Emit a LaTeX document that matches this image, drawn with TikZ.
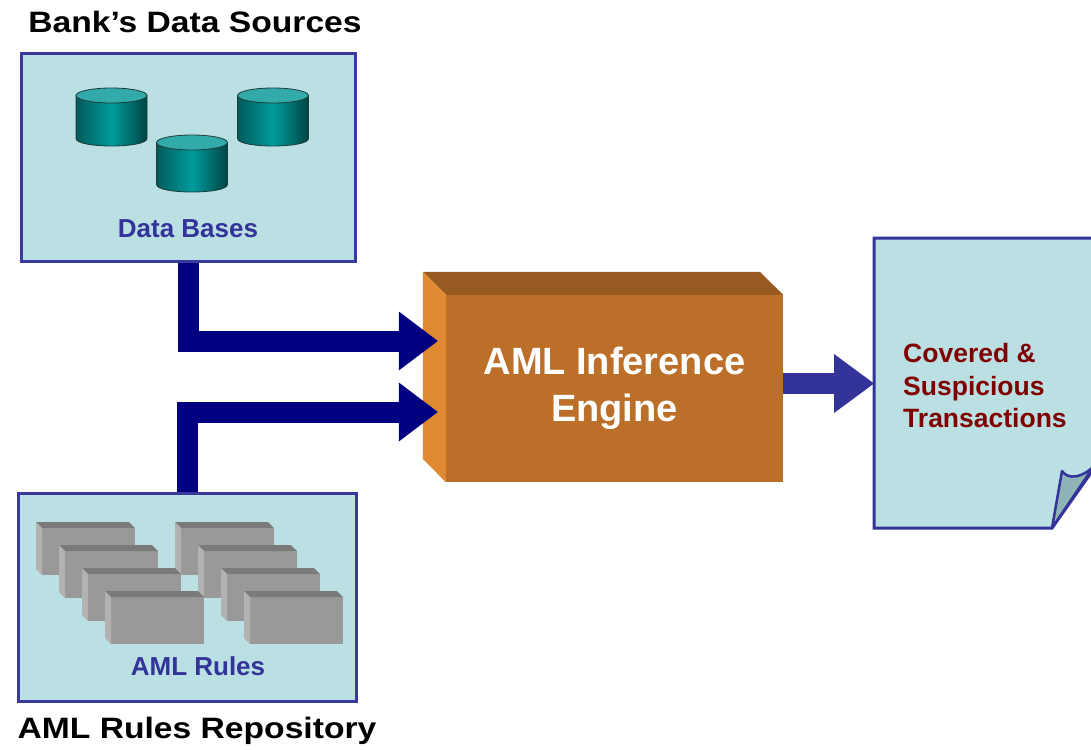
\documentclass[tikz,border=0pt]{standalone}
\usepackage{fontspec}
\setmainfont{Liberation Sans}
\usetikzlibrary{arrows.meta}
\definecolor{boxfill}{HTML}{BBE0E3}
\definecolor{boxline}{HTML}{3A3A9E}
\definecolor{navyarrow}{HTML}{000080}
\definecolor{outarrow}{HTML}{333399}
\definecolor{labelblue}{HTML}{333399}
\definecolor{engfront}{HTML}{BC6F28}
\definecolor{engtop}{HTML}{985A20}
\definecolor{engside}{HTML}{DF8A33}
\definecolor{docred}{HTML}{800000}
\definecolor{foldfill}{HTML}{8FB4B7}
\definecolor{cyldark}{HTML}{005A5A}
\definecolor{cylmid}{HTML}{009C9C}
\definecolor{cyltop}{HTML}{33AAAA}
\definecolor{cylline}{HTML}{1E3A3A}
\definecolor{blkfront}{HTML}{999999}
\definecolor{blktop}{HTML}{7A7A7A}
\definecolor{blkside}{HTML}{B2B2B2}
\newcommand\dbcyl[3]{%
  \shade[left color=cyldark, right color=cyldark!75!black, middle color=cylmid, draw=cylline, line width=0.8pt]
    (#1-35.5,#2+7.5) -- (#1-35.5,#3-7.5) .. controls (#1-35.5,#3+2.5) and (#1+35.5,#3+2.5) .. (#1+35.5,#3-7.5) -- (#1+35.5,#2+7.5) -- cycle;
  \draw[fill=cyltop, draw=cylline, line width=0.8pt] (#1,#2+7.5) ellipse [x radius=35.5, y radius=7.5];
}
\newcommand\ruleblk[2]{%
  \fill[blkfront] (#1+6,#2+6) rectangle (#1+99,#2+53);
  \fill[blktop] (#1,#2) -- (#1+93,#2) -- (#1+99,#2+6) -- (#1+6,#2+6) -- cycle;
  \fill[blkside] (#1,#2) -- (#1+6,#2+6) -- (#1+6,#2+53) -- (#1,#2+47) -- cycle;
}
\tikzset{
  srcbox/.style={draw=boxline, fill=boxfill, line width=3pt, minimum height=208.4pt, inner sep=0pt},
  heading/.style={anchor=base, font=\fontsize{29.5}{34}\selectfont\bfseries, inner sep=0pt},
  boxlabel/.style={anchor=base, text=labelblue, font=\fontsize{26}{30}\selectfont\bfseries, inner sep=0pt},
  enginebox/.style={fill=engfront, minimum width=337pt, minimum height=187pt, inner sep=0pt, text=white, align=center, font=\fontsize{38}{47}\selectfont\bfseries},
  inarrow/.style={draw=navyarrow, line width=21pt, line join=miter, -{Triangle[length=39pt,width=59pt,line width=0pt]}, shorten >=8pt},
  outarrowst/.style={draw=outarrow, line width=21pt, -{Triangle[length=40pt,width=59pt,line width=0pt]}},
  doctext/.style={anchor=west, text=docred, align=left, inner sep=0pt, font=\fontsize{26.5}{32.5}\selectfont\bfseries}
}
\begin{document}
\begin{tikzpicture}[x=1pt, y=-1pt]
\useasboundingbox[fill=white] (0,0) rectangle (1091,749);
% headings
\node[heading] (h1) at (195,33) {\scalebox{1.14}[1]{Bank’s Data Sources}};
\node[heading] (h2) at (197,738) {\scalebox{1.14}[1]{AML Rules Repository}};
% data source box
\node[srcbox, minimum width=334pt] (db) at (188,157.5) {};
\dbcyl{111.5}{88}{146}
\dbcyl{273}{88}{146}
\dbcyl{192}{135}{192}
\node[boxlabel] (dblbl) at (188,237) {Data Bases};
% rules box
\node[srcbox, minimum width=338pt] (rules) at (187.5,597.5) {};
\ruleblk{36}{522}
\ruleblk{175}{522}
\ruleblk{59}{545}
\ruleblk{198}{545}
\ruleblk{82}{568}
\ruleblk{221}{568}
\ruleblk{105}{591}
\ruleblk{244}{591}
\node[boxlabel] (ruleslbl) at (198,675) {AML Rules};
% engine
\node[enginebox] (engine) at (614.5,388.5) {AML Inference\\Engine};
\fill[engtop] (engine.north west) -- ++(-23,-23) -- ++(337,0) -- (engine.north east) -- cycle;
\fill[engside] (engine.north west) -- ++(-23,-23) -- ++(0,187) -- (engine.south west) -- cycle;
% document
\node[minimum width=226pt, minimum height=290pt, inner sep=0pt] (doc) at (987,383) {};
\coordinate (docin) at (874,383.5);
\filldraw[fill=boxfill, draw=outarrow, line width=3pt, line join=miter]
  (874,238) -- (1100,238) -- (1100,460) -- (1052,528) -- (874,528) -- cycle;
\filldraw[fill=foldfill, draw=outarrow, line width=2.5pt, line join=round]
  (1052,528) -- (1062,471) .. controls (1068,480) and (1082,478) .. (1094,466) -- cycle;
\node[doctext] (doclbl) at (903,386) {Covered \&\\Suspicious\\Transactions};
% connectors
\draw[inarrow] (db.south) |- ([yshift=47.5pt]engine.west);
\draw[inarrow] (rules.north) |- ([yshift=-23.5pt]engine.west);
\draw[outarrowst] ([yshift=5pt]engine.east) -- (docin);
\end{tikzpicture}
\end{document}
